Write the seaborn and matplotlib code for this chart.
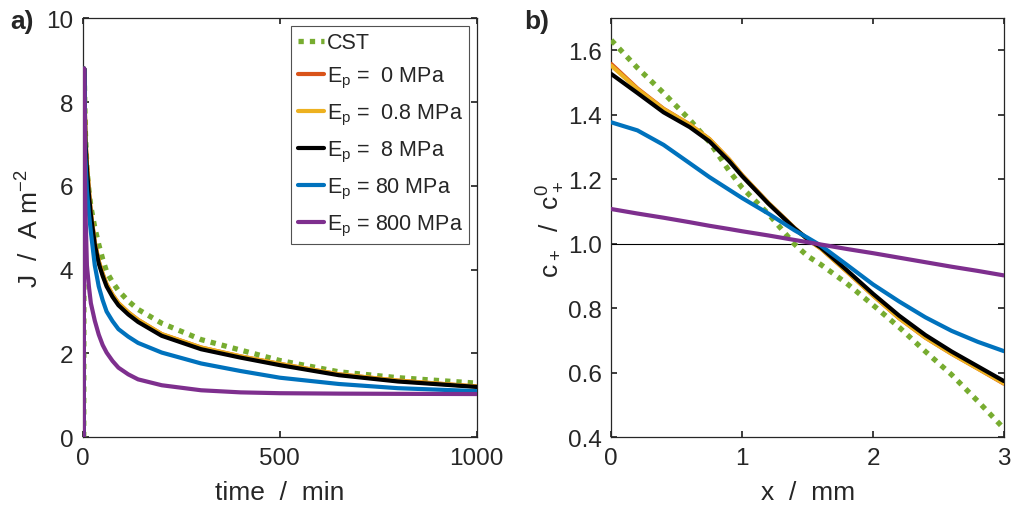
import numpy as np
import pandas as pd
import seaborn as sns
from matplotlib import pyplot as plt

# ==== panel a) current density vs time ====
time_min = [2, 3, 6, 10, 15, 20, 30, 40, 50, 60, 75, 90, 115, 140, 200, 300, 400, 500, 650, 800, 1000]
J_cst = [0, 8.8, 7.3, 6.4, 5.9, 5.5, 5.0, 4.6, 4.25, 3.95, 3.7, 3.5, 3.25, 3.05, 2.72, 2.33, 2.08,
         1.83, 1.56, 1.42, 1.29]
J_0 = [0, 8.8, 7.2, 6.5, 5.9, 5.35, 4.65, 4.2, 3.9, 3.65, 3.4, 3.2, 2.98, 2.8, 2.46, 2.14, 1.93,
       1.75, 1.5, 1.35, 1.21]
J_08 = [0, 8.8, 7.2, 6.5, 5.9, 5.35, 4.65, 4.2, 3.9, 3.65, 3.4, 3.2, 2.98, 2.8, 2.46, 2.14, 1.93,
        1.75, 1.5, 1.35, 1.21]
J_8 = [0, 8.8, 7.1, 6.4, 5.8, 5.3, 4.6, 4.15, 3.85, 3.6, 3.35, 3.15, 2.93, 2.75, 2.42, 2.1, 1.9,
       1.72, 1.48, 1.33, 1.20]
J_80 = [0, 8.8, 6.7, 5.9, 5.35, 4.9, 4.1, 3.6, 3.27, 3.0, 2.77, 2.58, 2.4, 2.25, 2.02, 1.76, 1.58,
        1.42, 1.27, 1.17, 1.10]
J_800 = [0, 8.8, 5.5, 4.1, 3.6, 3.2, 2.78, 2.45, 2.2, 2.02, 1.82, 1.66, 1.5, 1.38, 1.24, 1.12, 1.07,
         1.05, 1.04, 1.035, 1.03]

# ==== panel b) concentration profile ====
x_mm = [0, 0.2, 0.4, 0.6, 0.75, 0.9, 1.0, 1.2, 1.4, 1.5, 1.6, 1.8, 2.0, 2.2, 2.4, 2.6, 2.8, 3.0]
c_cst = [1.632, 1.546, 1.468, 1.385, 1.316, 1.227, 1.174, 1.093, 0.999, 0.962, 0.936, 0.877,
         0.81, 0.741, 0.666, 0.594, 0.512, 0.427]
c_0 = [1.558, 1.482, 1.419, 1.37, 1.325, 1.262, 1.213, 1.127, 1.049, 1.014, 0.986, 0.914,
       0.84, 0.769, 0.709, 0.659, 0.613, 0.566]
c_08 = [1.553, 1.48, 1.418, 1.37, 1.325, 1.262, 1.213, 1.127, 1.049, 1.014, 0.986, 0.914,
        0.84, 0.769, 0.709, 0.659, 0.613, 0.567]
c_8 = [1.527, 1.468, 1.408, 1.362, 1.318, 1.257, 1.21, 1.125, 1.048, 1.015, 0.989, 0.918,
       0.845, 0.777, 0.717, 0.666, 0.62, 0.574]
c_80 = [1.377, 1.352, 1.307, 1.25, 1.207, 1.168, 1.142, 1.094, 1.042, 1.019, 0.995, 0.935,
        0.874, 0.821, 0.772, 0.730, 0.696, 0.667]
c_800 = [1.108, 1.094, 1.081, 1.067, 1.056, 1.046, 1.039, 1.026, 1.012, 1.005, 0.998, 0.984,
         0.971, 0.957, 0.943, 0.929, 0.916, 0.902]

labels = ['CST', '$E_p$ =  0 MPa', '$E_p$ =  0.8 MPa', '$E_p$ =  8 MPa',
          '$E_p$ = 80 MPa', '$E_p$ = 800 MPa']
colors = ['#77AC30', '#D95319', '#EDB120', '#000000', '#0072BD', '#7E2F8E']

sns.set_theme(style='ticks')
plt.rcParams['font.family'] = ['Liberation Sans', 'DejaVu Sans']
plt.rcParams['mathtext.default'] = 'regular'
plt.rcParams['axes.edgecolor'] = '#262626'
plt.rcParams['axes.linewidth'] = 0.9
plt.rcParams['xtick.direction'] = 'in'
plt.rcParams['ytick.direction'] = 'in'
plt.rcParams['xtick.major.size'] = 4.5
plt.rcParams['ytick.major.size'] = 4.5
plt.rcParams['xtick.color'] = '#262626'
plt.rcParams['ytick.color'] = '#262626'

fig = plt.figure(figsize=(10.12, 5.06), dpi=100)
ax1 = fig.add_axes([0.082, 0.134, 0.389, 0.828])
ax2 = fig.add_axes([0.604, 0.134, 0.388, 0.828])

J_all = [J_cst, J_0, J_08, J_8, J_80, J_800]
c_all = [c_cst, c_0, c_08, c_8, c_80, c_800]

for i in range(6):
    if i == 0:
        ls = (0, (1.0, 1.15))
        lw = 3.8
    else:
        ls = '-'
        lw = 3.0
    sns.lineplot(x=time_min, y=J_all[i], ax=ax1, color=colors[i], linestyle=ls,
                 linewidth=lw, label=labels[i], zorder=3 + i)
    sns.lineplot(x=x_mm, y=c_all[i], ax=ax2, color=colors[i], linestyle=ls,
                 linewidth=lw, zorder=3 + i, legend=False)

ax2.axhline(1.0, color='black', linewidth=0.8, zorder=2)

# ---- axes a ----
ax1.set_xlim(0, 1000)
ax1.set_ylim(0, 10)
ax1.set_xticks([0, 500, 1000])
ax1.set_yticks([0, 2, 4, 6, 8, 10])
ax1.set_xlabel('time  /  min', fontsize=19, labelpad=8)
ax1.set_ylabel('J  /  A m$^{-2}$', fontsize=19, labelpad=2)
leg = ax1.legend(loc='upper right', fontsize=15.5, frameon=True, fancybox=False,
                 edgecolor='#262626', handlelength=1.25, handletextpad=0.1,
                 labelspacing=0.55, borderpad=0.3, borderaxespad=0.35)
leg.get_frame().set_linewidth(0.8)

# ---- axes b ----
ax2.set_xlim(0, 3)
ax2.set_ylim(0.4, 1.7)
ax2.set_xticks([0, 1, 2, 3])
ax2.set_yticks([0.4, 0.6, 0.8, 1.0, 1.2, 1.4, 1.6])
ax2.set_yticklabels(['0.4', '0.6', '0.8', '1.0', '1.2', '1.4', '1.6'])
ax2.set_xlabel('x  /  mm', fontsize=19, labelpad=8)
ax2.set_ylabel('c$_+$  /  c$_+^0$', fontsize=19, labelpad=2)

for ax in [ax1, ax2]:
    ax.tick_params(labelsize=17.5, top=True, right=True, pad=7)
    for s in ax.spines.values():
        s.set_visible(True)

fig.text(0.01, 0.957, 'a)', fontsize=19, fontweight='bold', va='center')
fig.text(0.518, 0.957, 'b)', fontsize=19, fontweight='bold', va='center')

plt.savefig('out.png', dpi=100)
